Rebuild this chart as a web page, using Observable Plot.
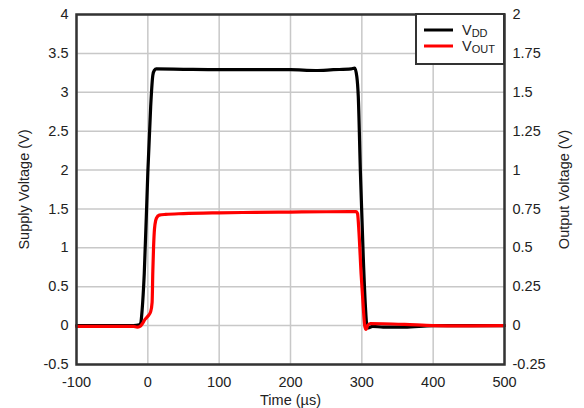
<!DOCTYPE html>
<html><head><meta charset="utf-8">
<script src="https://cdn.jsdelivr.net/npm/d3@7"></script>
<script src="https://cdn.jsdelivr.net/npm/@observablehq/plot@0.6"></script>
<style>
html,body{margin:0;padding:0;background:#fff;}
#chart{position:relative;width:584px;height:408px;}
svg{font-family:"Liberation Sans",Arial,sans-serif;}
</style></head>
<body><div id="chart"></div>
<script>
// Time (µs)
const vddTime = [-100,-50,-20,-12,-10,-8,-5,0,4,7,9,12,50,100,150,200,235,260,285,290,293,295,298,302,305,307,309,315,330,360,400,450,500];
// Supply voltage VDD (V)
const vddValue = [0,0,0,0.01,0.03,0.2,0.67,1.97,2.82,3.22,3.28,3.3,3.295,3.29,3.29,3.29,3.28,3.29,3.3,3.31,3.2,2.95,1.97,0.88,0.25,0.0,-0.03,-0.01,-0.02,-0.02,0,0,0];
const voutTime = [-100,-50,-20,-15,-11,-8,-4,0,4,6,7,8,9,10,12,16,25,50,100,150,200,250,292,294,296,299,302,304,306,308,312,330,360,400,440,500];
// Output voltage VOUT (V)
const voutValue = [-0.005,-0.005,-0.005,-0.01,-0.005,0.01,0.04,0.06,0.09,0.15,0.35,0.5,0.6,0.65,0.69,0.71,0.715,0.72,0.725,0.728,0.73,0.732,0.733,0.72,0.6,0.33,0.12,0.0,-0.025,0.0,0.013,0.012,0.008,0.0,-0.002,0];

const xTicks = [-100,0,100,200,300,400,500];
const xTickLabels = ["-100","0","100","200","300","400","500"];
const yTicks = [-0.5,0,0.5,1,1.5,2,2.5,3,3.5,4];
const yTickLabels = ["-0.5","0","0.5","1","1.5","2","2.5","3","3.5","4"];
const y2TickLabels = ["-0.25","0","0.25","0.5","0.75","1","1.25","1.5","1.75","2"];
const outScale = 2; // right axis = left / 2

const vdd = vddTime.map((t,i)=>({t, v: vddValue[i]}));
const vout = voutTime.map((t,i)=>({t, v: voutValue[i]*outScale}));

const chart = Plot.plot({
  width: 584, height: 408,
  marginLeft: 76, marginRight: 80, marginTop: 14, marginBottom: 44,
  style: {fontFamily: '"Liberation Sans",Arial,sans-serif', fontSize: "14px", color: "#222", background: "#fff"},
  x: {domain: [-100, 500]},
  y: {domain: [-0.5, 4]},
  marks: [
    Plot.gridX(xTicks, {stroke: "#c8c8c8", strokeOpacity: 1, strokeWidth: 1.5}),
    Plot.gridY(yTicks, {stroke: "#c8c8c8", strokeOpacity: 1, strokeWidth: 1.5}),
    Plot.axisX(xTicks, {tickSize: 0, tickPadding: 12, fontSize: 14.5, tickFormat: (d,i)=>xTickLabels[i], label: "Time (µs)", labelAnchor: "center", labelOffset: 40, labelArrow: "none"}),
    Plot.axisY(yTicks, {anchor: "left", tickSize: 0, tickPadding: 8, fontSize: 14.5, tickFormat: (d,i)=>yTickLabels[i], label: "Supply Voltage (V)", labelAnchor: "center", labelOffset: 58, labelArrow: "none"}),
    Plot.axisY(yTicks, {anchor: "right", tickSize: 0, tickPadding: 8, fontSize: 14.5, tickFormat: (d,i)=>y2TickLabels[i], label: "Output Voltage (V)", labelAnchor: "center", labelOffset: 64, labelArrow: "none"}),
    Plot.line(vdd, {x: "t", y: "v", stroke: "#000", strokeWidth: 3.2, curve: "monotone-x"}),
    Plot.line(vout, {x: "t", y: "v", stroke: "#f00", strokeWidth: 3.2, curve: "monotone-x"}),
    Plot.frame({stroke: "#333", strokeWidth: 2.5})
  ]
});
document.getElementById("chart").appendChild(chart);

// Legend
const svg = d3.select(chart);
const g = svg.append("g").attr("font-family", '"Liberation Sans",Arial,sans-serif').attr("text-anchor", "start");
const lx = 416, ly = 14, lw = 88, lh = 50;
g.append("rect").attr("x", lx).attr("y", ly).attr("width", lw).attr("height", lh)
  .attr("fill", "#fff").attr("stroke", "#333").attr("stroke-width", 2);
const legendItems = [{name: "V", sub: "DD", color: "#000"}, {name: "V", sub: "OUT", color: "#f00"}];
legendItems.forEach((d, i) => {
  const yy = ly + 16 + i * 16;
  g.append("line").attr("x1", lx + 8).attr("x2", lx + 37).attr("y1", yy).attr("y2", yy)
    .attr("stroke", d.color).attr("stroke-width", 3);
  const t = g.append("text").attr("x", lx + 46).attr("y", yy + 5).attr("font-size", 14.5)
    .attr("fill", "#222").attr("text-anchor", "start");
  t.append("tspan").text(d.name);
  t.append("tspan").attr("font-size", 11).attr("dy", 2).text(d.sub);
});
</script></body></html>
